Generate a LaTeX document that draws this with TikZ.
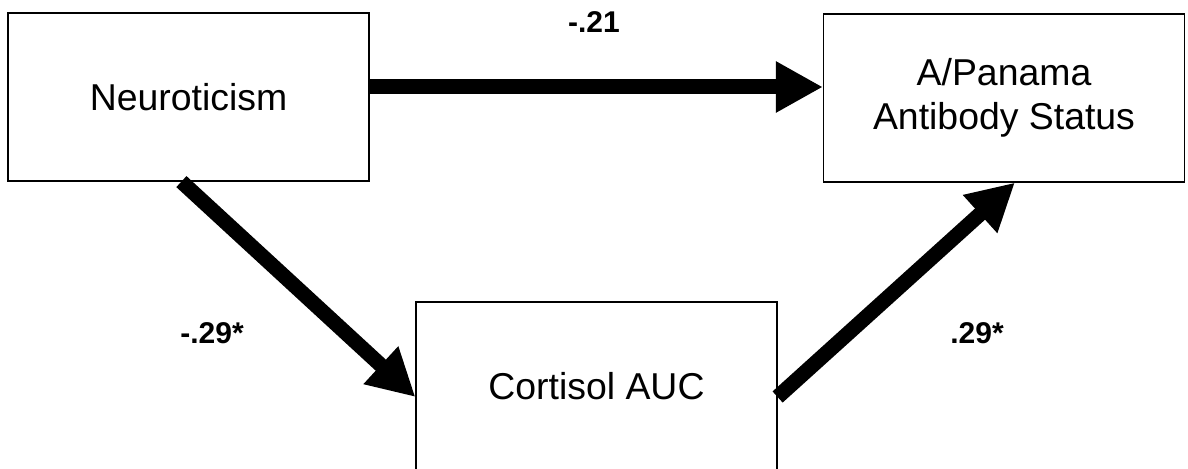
\documentclass[tikz,border=0pt]{standalone}
\usepackage{fontspec}
\setmainfont{Liberation Sans}
\usetikzlibrary{arrows.meta,calc}

\begin{document}
\begin{tikzpicture}[x=0.5pt,y=-0.5pt]
\tikzstyle{varbox} = [draw, line width = 0.6pt, minimum width = 180.5pt, minimum height = 84pt, inner sep = 0 pt, align = center, font = \fontsize{18.7}{22}\selectfont]
\tikzstyle{path} = [line width = 7.5pt, -{Triangle[length = 23.5pt, width = 24pt]}]
\tikzstyle{coef} = [font = \fontsize{15}{18}\selectfont\bfseries]
\useasboundingbox (0,0) rectangle (1188,469);

\node [varbox] (neuro) at (188.5,97) {Neuroticism};
\node [varbox] (panama) at (1004,98) {A/Panama\\Antibody Status};
\node [varbox] (cortisol) at (596.5,386) {Cortisol AUC};

\draw [path] (neuro.east |- 0,87) -- (panama.west |- 0,87);
\draw [path] ($(neuro.south west)+(87pt,0)$) -- ($(cortisol.west)+(0,-5.5pt)$);
\draw [path] ($(cortisol.east)+(0,-5.5pt)$) -- ($(panama.south west)+(96pt,0)$);

\node [coef] (c1) at (594,22) {-.21};
\node [coef] (c2) at (212,333) {-.29*};
\node [coef] (c3) at (977,333) {.29*};
\end{tikzpicture}
\end{document}
